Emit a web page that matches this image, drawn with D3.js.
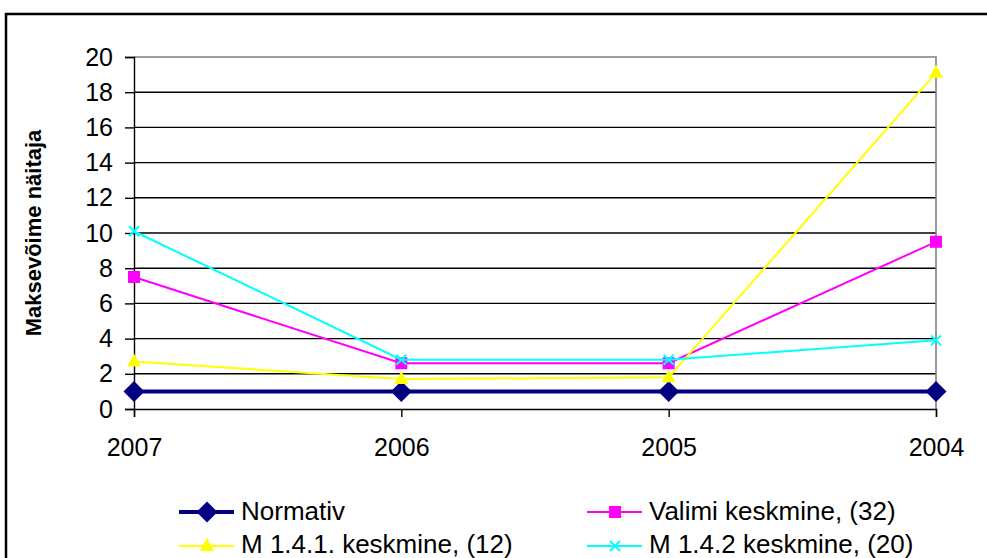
<!DOCTYPE html>
<html>
<head>
<meta charset="utf-8">
<script src="https://cdn.jsdelivr.net/npm/d3@7"></script>
<style>
  html, body { margin: 0; padding: 0; background: #fff; }
  svg { display: block; font-family: Arial, "Liberation Sans", sans-serif; }
</style>
</head>
<body>
<svg id="chart" width="987" height="558"></svg>
<script>
// Years on the category axis (most recent first)
const years = ["2007", "2006", "2005", "2004"];

// Series values per year
const normativ = [1, 1, 1, 1];
const valimi = [7.5, 2.6, 2.6, 9.5];
const m141 = [2.7, 1.7, 1.8, 19.1];
const m142 = [10.1, 2.8, 2.8, 3.9];

// Value-axis tick labels
const yTicks = [0, 2, 4, 6, 8, 10, 12, 14, 16, 18, 20];

const seriesNames = ["Normativ", "Valimi keskmine, (32)", "M 1.4.1. keskmine, (12)", "M 1.4.2 keskmine, (20)"];
const axisTitle = "Maksevõime näitaja";

const series = [
  { name: seriesNames[0], values: normativ, color: "#000080", width: 4, marker: "diamond" },
  { name: seriesNames[1], values: valimi, color: "#FF00FF", width: 2, marker: "square" },
  { name: seriesNames[2], values: m141, color: "#FFFF00", width: 2, marker: "triangle" },
  { name: seriesNames[3], values: m142, color: "#00FFFF", width: 2, marker: "cross" }
];

const svg = d3.select("#chart");
const plot = { left: 134, right: 936, top: 57, bottom: 409 };
const fontSize = 25;
const legendFontSize = 26;

const x = d3.scalePoint().domain(years).range([plot.left, plot.right]).padding(0);
const y = d3.scaleLinear().domain([0, 20]).range([plot.bottom, plot.top]);

// Outer chart frame
svg.append("rect")
  .attr("x", 6).attr("y", 14).attr("width", 1000).attr("height", 600)
  .attr("fill", "none").attr("stroke", "#000").attr("stroke-width", 2.5);

// Horizontal gridlines
svg.append("g").selectAll("line")
  .data(yTicks.filter(t => t > 0 && t < 20))
  .join("line")
  .attr("x1", plot.left).attr("x2", plot.right)
  .attr("y1", d => y(d)).attr("y2", d => y(d))
  .attr("stroke", "#000").attr("stroke-width", 1.4);

// Plot area border (top and right)
svg.append("path")
  .attr("d", `M${plot.left},${y(20)}H${plot.right}V${plot.bottom}`)
  .attr("fill", "none").attr("stroke", "#808080").attr("stroke-width", 1.6);

// Value axis
const yAxis = svg.append("g")
  .attr("transform", `translate(${plot.left},0)`)
  .call(d3.axisLeft(y).tickValues(yTicks).tickSize(9).tickPadding(12).tickFormat(d3.format("d")));
yAxis.select(".domain").attr("stroke", "#000").attr("stroke-width", 1.4);
yAxis.selectAll(".tick line").attr("stroke", "#000").attr("stroke-width", 1.4);
yAxis.selectAll(".tick text").attr("font-size", fontSize).attr("fill", "#000")
  .attr("font-family", "Arial, 'Liberation Sans', sans-serif");

// Category axis
const xAxis = svg.append("g")
  .attr("transform", `translate(0,${plot.bottom})`)
  .call(d3.axisBottom(x).tickSize(8).tickPadding(21));
xAxis.select(".domain").attr("stroke", "#000").attr("stroke-width", 1.4);
xAxis.selectAll(".tick line").attr("stroke", "#000").attr("stroke-width", 1.4);
xAxis.selectAll(".tick text").attr("font-size", fontSize).attr("fill", "#000")
  .attr("font-family", "Arial, 'Liberation Sans', sans-serif");

// Value axis title
svg.append("text")
  .attr("transform", `translate(41,${(plot.top + plot.bottom) / 2}) rotate(-90)`)
  .attr("text-anchor", "middle")
  .attr("font-size", 22).attr("font-weight", "bold")
  .text(axisTitle);

// Marker drawing helper
function drawMarker(g, type, color, cx, cy) {
  if (type === "diamond") {
    const r = 10.5;
    g.append("path").attr("d", `M${cx},${cy - r}L${cx + r},${cy}L${cx},${cy + r}L${cx - r},${cy}Z`).attr("fill", color);
  } else if (type === "square") {
    const s = 12;
    g.append("rect").attr("x", cx - s / 2).attr("y", cy - s / 2).attr("width", s).attr("height", s).attr("fill", color);
  } else if (type === "triangle") {
    g.append("path").attr("d", `M${cx},${cy - 8}L${cx + 7},${cy + 5}L${cx - 7},${cy + 5}Z`).attr("fill", color);
  } else if (type === "cross") {
    const r = 5;
    g.append("path").attr("d", `M${cx - r},${cy - r}L${cx + r},${cy + r}M${cx - r},${cy + r}L${cx + r},${cy - r}`)
      .attr("stroke", color).attr("stroke-width", 2).attr("fill", "none");
  }
}

const line = d3.line().x((d, i) => x(years[i])).y(d => y(d));

series.forEach(s => {
  const g = svg.append("g");
  g.append("path").attr("d", line(s.values))
    .attr("fill", "none").attr("stroke", s.color).attr("stroke-width", s.width);
  s.values.forEach((v, i) => drawMarker(g, s.marker, s.color, x(years[i]), y(v)));
});

// Legend (two columns, two rows)
const legendPos = [
  { lx: 179, ly: 512, dy: 8 }, { lx: 587, ly: 512, dy: 8 },
  { lx: 179, ly: 546, dy: 6.5 }, { lx: 587, ly: 546, dy: 6.5 }
];
series.forEach((s, i) => {
  const p = legendPos[i];
  const g = svg.append("g");
  g.append("line").attr("x1", p.lx).attr("x2", p.lx + 55).attr("y1", p.ly).attr("y2", p.ly)
    .attr("stroke", s.color).attr("stroke-width", s.width);
  drawMarker(g, s.marker, s.color, p.lx + 28, p.ly);
  g.append("text").attr("x", p.lx + 62).attr("y", p.ly + p.dy)
    .attr("font-size", legendFontSize).attr("fill", "#000").text(s.name);
});
</script>
</body>
</html>
